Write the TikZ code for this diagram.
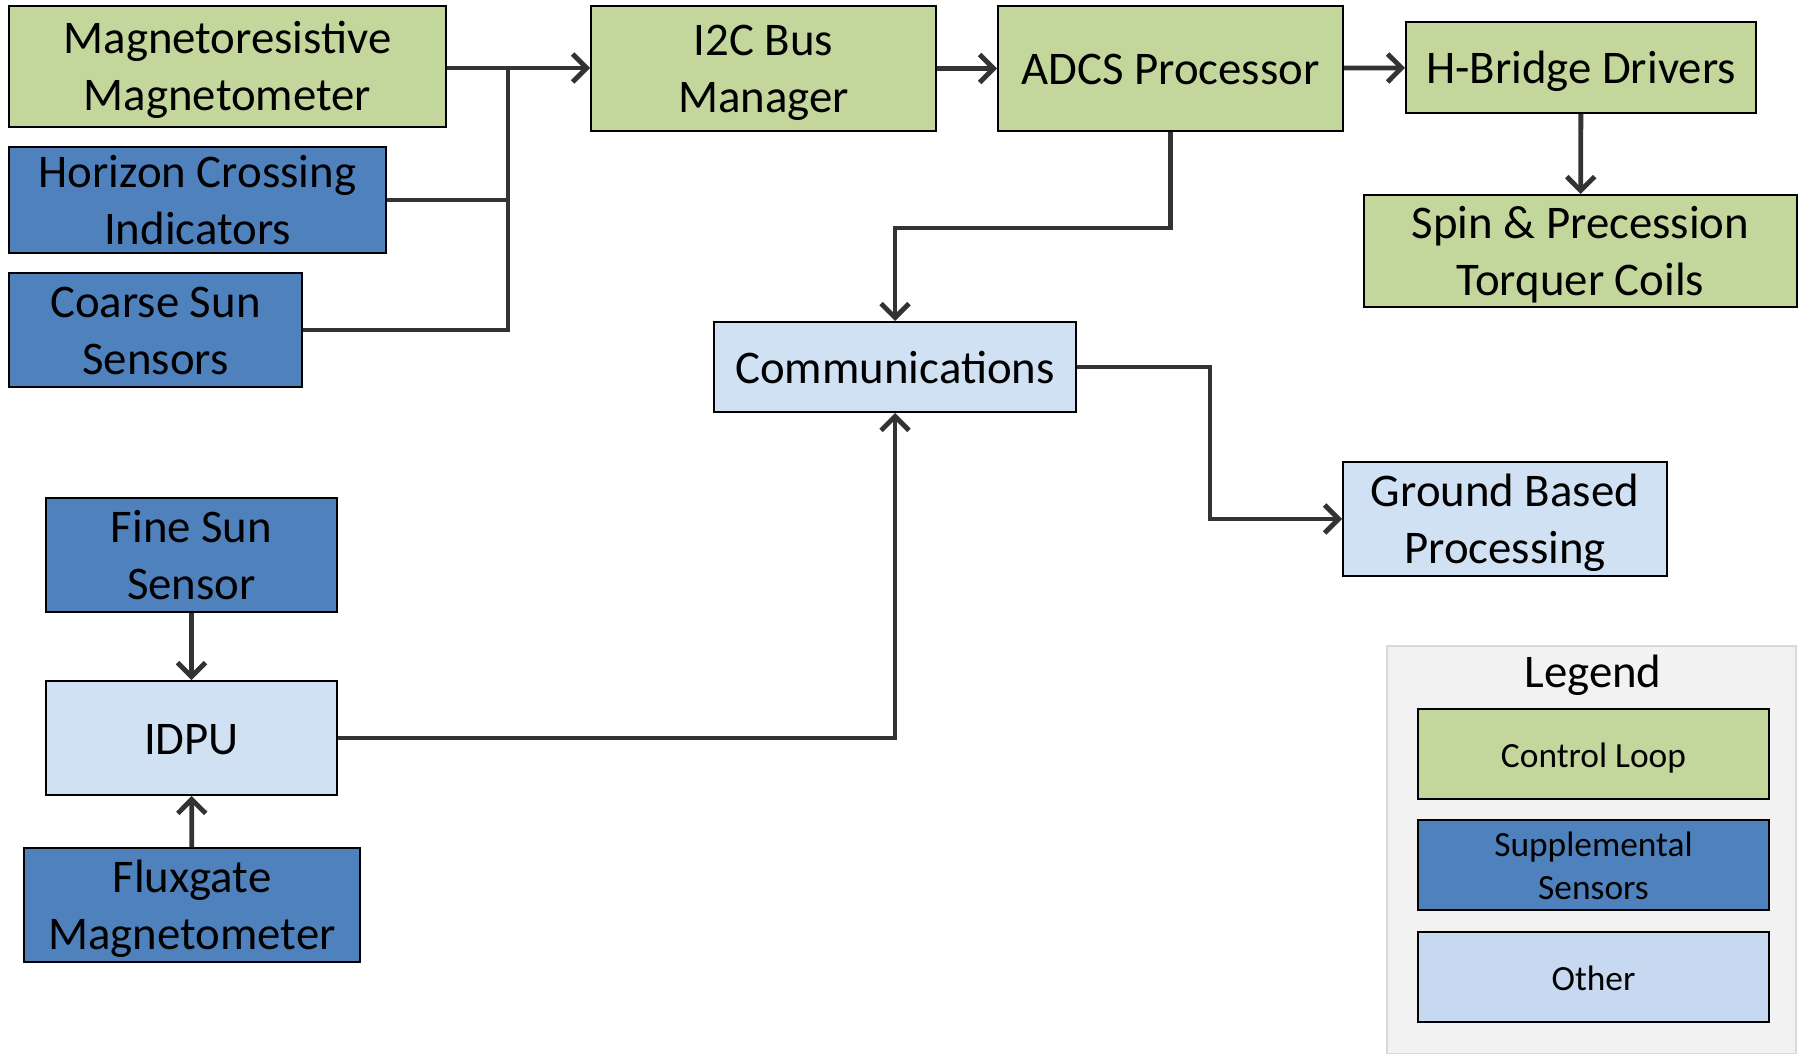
\documentclass[tikz,border=0pt]{standalone}
\usepackage{fontspec}
\setmainfont{Carlito}
\usetikzlibrary{arrows.meta,positioning}
\definecolor{ctrlgreen}{HTML}{C3D69B}
\definecolor{sensblue}{HTML}{4F81BD}
\definecolor{otherblue}{HTML}{D0E1F3}
\definecolor{keyblue}{HTML}{C6D9F1}
\definecolor{wiregray}{HTML}{333333}
\definecolor{keyback}{HTML}{F2F2F2}
\definecolor{keyframe}{HTML}{D9D9D9}
\tikzset{
    %Define standard arrow tip
    >={Straight Barb[length=7pt,width=14pt]},
    %Define style for boxes
    boks/.style={
           rectangle,
           draw=black,
           line width=1pt,
           align=center,
           inner sep=0pt,
           text height=20pt,
           text depth=4pt,
           font=\fontsize{23.4}{28.5}\selectfont},
    % boxes holding two lines of text
    dbl/.style={text height=48.5pt},
    ctrl/.style={boks, fill=ctrlgreen},
    sens/.style={boks, fill=sensblue},
    misc/.style={boks, fill=otherblue},
    % Legend entries
    key/.style={
           boks,
           minimum width=175.5pt,
           minimum height=45pt,
           text height=15.5pt,
           text depth=2pt,
           font=\fontsize{17.7}{21.6}\selectfont},
    % Define arrow style
    pil/.style={
           draw=wiregray,
           line width=2.4pt}
}
\begin{document}
\begin{tikzpicture}[x=0.5pt, y=-0.5pt]
  \useasboundingbox (0,0) rectangle (1805,1054);
  % control loop
  \node[ctrl, dbl, minimum width=218.5pt, minimum height=60.5pt] (mrm) at (227.5,66.5) {Magnetoresistive\\Magnetometer};
  \node[ctrl, dbl, minimum width=172.5pt, minimum height=62.5pt] (i2c) at (763.5,68.5) {I2C Bus\\Manager};
  \node[ctrl, minimum width=172.5pt, minimum height=62.5pt] (adcs) at (1170.5,68.5) {ADCS Processor};
  \node[ctrl, minimum width=175pt, minimum height=45.5pt] (hbd) at (1581,67.5) {H-Bridge Drivers};
  \node[ctrl, dbl, minimum width=216.5pt, minimum height=56pt] (spin) at (1580.5,251) {Spin \& Precession\\Torquer Coils};
  % supplemental sensors
  \node[sens, dbl, minimum width=188.5pt, minimum height=53pt] (hci) at (197.5,200) {Horizon Crossing\\Indicators};
  \node[sens, dbl, minimum width=146.5pt, minimum height=57pt] (css) at (155.5,330) {Coarse Sun\\Sensors};
  \node[sens, dbl, minimum width=145.5pt, minimum height=57pt] (fss) at (191.5,555) {Fine Sun\\Sensor};
  \node[sens, dbl, minimum width=168pt, minimum height=57pt] (fgm) at (192,905) {Fluxgate\\Magnetometer};
  % other
  \node[misc, minimum width=181pt, minimum height=45pt] (comm) at (895,367) {Communications};
  \node[misc, dbl, minimum width=162pt, minimum height=57pt] (gbp) at (1505,519) {Ground Based\\Processing};
  \node[misc, minimum width=145.5pt, minimum height=57pt] (idpu) at (191.5,738) {IDPU};

  % sensor bus
  \coordinate (bus) at (508,68);
  \draw[pil,->] (mrm.east |- bus) -- (i2c.west |- bus);
  \draw[pil] (hci.east) -| (bus);
  \draw[pil] (css.east) -| (bus);
  \draw[pil,->] (i2c) -- (adcs);
  \draw[pil,->] (adcs) -- (hbd);
  \draw[pil,->] (hbd) -- (spin);
  \draw[pil,->] (adcs.south) -- ++(0,96) -| (comm.north);
  \draw[pil,->] (comm.east) -- ++(133,0) |- (gbp.west);
  \draw[pil,->] (fss) -- (idpu);
  \draw[pil,->] (fgm) -- (idpu);
  \draw[pil,->] (idpu.east) -| (comm.south);

  % legend
  \node[draw=keyframe, fill=keyback, line width=0.6pt, minimum width=204.5pt, minimum height=204pt, inner sep=0pt] (keybox) at (1591.5,850) {};
  \node[font=\fontsize{23.4}{28.5}\selectfont] (keytitle) at (1593,675) {Legend};
  \node[key, fill=ctrlgreen] (keyctrl) at (1593.5,754) {Control Loop};
  \node[key, text height=37.1pt, fill=sensblue] (keysens) at (1593.5,864.5) {Supplemental\\Sensors};
  \node[key, fill=keyblue] (keymisc) at (1593.5,977) {Other};
\end{tikzpicture}
\end{document}
